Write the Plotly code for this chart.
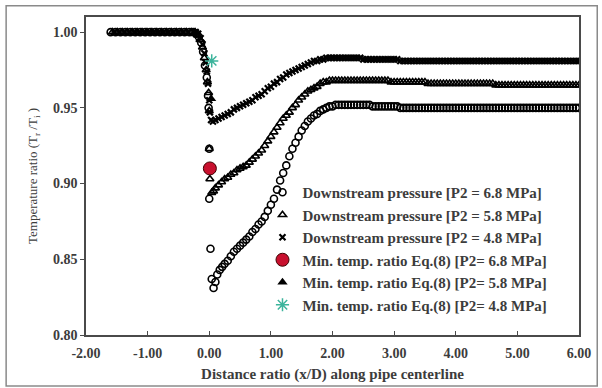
import plotly.graph_objects as go

# ---------------- data ----------------
# shared sample positions of the flat downstream part (x/D)
x_flat = [2.05, 2.10, 2.15, 2.20, 2.25, 2.30, 2.35, 2.40, 2.45, 2.50,
          2.55, 2.60, 2.65, 2.70, 2.75, 2.80, 2.85, 2.90, 2.95, 3.00,
          3.05, 3.10, 3.15, 3.20, 3.25, 3.30, 3.35, 3.40, 3.45, 3.50,
          3.55, 3.60, 3.65, 3.70, 3.75, 3.80, 3.85, 3.90, 3.95, 4.00,
          4.05, 4.10, 4.15, 4.20, 4.25, 4.30, 4.35, 4.40, 4.45, 4.50,
          4.55, 4.60, 4.65, 4.70, 4.75, 4.80, 4.85, 4.90, 4.95, 5.00,
          5.05, 5.10, 5.15, 5.20, 5.25, 5.30, 5.35, 5.40, 5.45, 5.50,
          5.55, 5.60, 5.65, 5.70, 5.75, 5.80, 5.85, 5.90, 5.95, 6.00]

# Downstream pressure P2 = 6.8 MPa (open circles)
x68_up = [-1.60, -1.52, -1.44, -1.36, -1.28, -1.20, -1.12, -1.04, -0.96, -0.88, -0.80, -0.72, -0.64, -0.56, -0.48, -0.40, -0.32,
          -0.26, -0.21, -0.17, -0.13, -0.10, -0.07, -0.04, -0.02, -0.01, 0.00, 0.00, 0.02, 0.04, 0.07, 0.10, 0.13, 0.17, 0.21,
          0.25, 0.30, 0.35, 0.40, 0.45, 0.50, 0.55, 0.60, 0.65, 0.70, 0.75, 0.80, 0.85, 0.90, 0.95, 1.00, 1.05, 1.10, 1.15,
          1.20, 1.25, 1.30, 1.35, 1.40, 1.45, 1.50, 1.55, 1.60, 1.65, 1.70, 1.75, 1.80, 1.85, 1.90, 1.95, 2.00]
y68_up = [1.000, 1.000, 1.000, 1.000, 1.000, 1.000, 1.000, 1.000, 1.000, 1.000, 1.000, 1.000, 1.000, 1.000, 1.000, 1.000, 1.000,
          1.000, 0.999, 0.997, 0.993, 0.987, 0.978, 0.970, 0.958, 0.950, 0.923, 0.890, 0.857, 0.837, 0.831, 0.835, 0.840, 0.843, 0.845,
          0.847, 0.849, 0.852, 0.855, 0.857, 0.859, 0.861, 0.863, 0.865, 0.868, 0.870, 0.873, 0.875, 0.878, 0.882, 0.886, 0.890, 0.896, 0.902,
          0.907, 0.912, 0.918, 0.923, 0.927, 0.931, 0.935, 0.938, 0.941, 0.943, 0.945, 0.946, 0.948, 0.949, 0.950, 0.951, 0.951]
y68_flat = [0.952, 0.952, 0.952, 0.952, 0.952, 0.952, 0.952, 0.952, 0.952, 0.952,
            0.952, 0.952, 0.951, 0.951, 0.951, 0.951, 0.951, 0.951, 0.951, 0.951,
            0.951, 0.950, 0.950, 0.950, 0.950, 0.950, 0.950, 0.950, 0.950, 0.950,
            0.950, 0.950, 0.950, 0.950, 0.950, 0.950, 0.950, 0.950, 0.950, 0.950,
            0.950, 0.950, 0.950, 0.950, 0.950, 0.950, 0.950, 0.950, 0.950, 0.950,
            0.950, 0.950, 0.950, 0.950, 0.950, 0.950, 0.950, 0.950, 0.950, 0.950,
            0.950, 0.950, 0.950, 0.950, 0.950, 0.950, 0.950, 0.950, 0.950, 0.950,
            0.950, 0.950, 0.950, 0.950, 0.950, 0.950, 0.950, 0.950, 0.950, 0.950]

# Downstream pressure P2 = 5.8 MPa (open triangles)
x58_up = [-1.57, -1.49, -1.41, -1.33, -1.25, -1.17, -1.09, -1.01, -0.93, -0.85, -0.77, -0.69, -0.61, -0.53, -0.45, -0.37, -0.29,
          -0.23, -0.19, -0.15, -0.11, -0.08, -0.05, -0.03, -0.01, 0.00, 0.00, 0.01, 0.04, 0.07, 0.10, 0.15, 0.20,
          0.25, 0.30, 0.35, 0.40, 0.45, 0.50, 0.55, 0.60, 0.65, 0.70, 0.75, 0.80, 0.85, 0.90, 0.95, 1.00, 1.05, 1.10, 1.15,
          1.20, 1.25, 1.30, 1.35, 1.40, 1.45, 1.50, 1.55, 1.60, 1.65, 1.70, 1.75, 1.80, 1.85, 1.90, 1.95, 2.00]
y58_up = [1.000, 1.000, 1.000, 1.000, 1.000, 1.000, 1.000, 1.000, 1.000, 1.000, 1.000, 1.000, 1.000, 1.000, 1.000, 1.000, 1.000,
          1.000, 0.998, 0.995, 0.990, 0.983, 0.975, 0.967, 0.960, 0.948, 0.923, 0.903, 0.894, 0.895, 0.897, 0.899, 0.901,
          0.903, 0.904, 0.906, 0.907, 0.909, 0.910, 0.911, 0.912, 0.914, 0.916, 0.918, 0.920, 0.922, 0.925, 0.928, 0.931, 0.934, 0.937, 0.940,
          0.943, 0.945, 0.947, 0.950, 0.952, 0.955, 0.957, 0.959, 0.961, 0.962, 0.963, 0.964, 0.966, 0.967, 0.967, 0.968, 0.968]
y58_flat = [0.968, 0.968, 0.968, 0.968, 0.968, 0.968, 0.968, 0.968, 0.968, 0.968,
            0.968, 0.968, 0.968, 0.968, 0.968, 0.968, 0.968, 0.968, 0.967, 0.967,
            0.967, 0.967, 0.967, 0.967, 0.967, 0.967, 0.967, 0.967, 0.967, 0.967,
            0.966, 0.966, 0.966, 0.966, 0.966, 0.966, 0.966, 0.966, 0.966, 0.966,
            0.966, 0.966, 0.966, 0.966, 0.966, 0.966, 0.966, 0.966, 0.966, 0.966,
            0.966, 0.966, 0.965, 0.965, 0.965, 0.965, 0.965, 0.965, 0.965, 0.965,
            0.965, 0.965, 0.965, 0.965, 0.965, 0.965, 0.965, 0.965, 0.965, 0.965,
            0.965, 0.965, 0.965, 0.965, 0.965, 0.965, 0.965, 0.965, 0.965, 0.965]

# Downstream pressure P2 = 4.8 MPa (x marks)
x48_up = [-1.54, -1.46, -1.38, -1.30, -1.22, -1.14, -1.06, -0.98, -0.90, -0.82, -0.74, -0.66, -0.58, -0.50, -0.42, -0.34, -0.26,
          -0.22, -0.18, -0.14, -0.11, -0.08, -0.06, -0.04, -0.02, 0.00, 0.01, 0.03, 0.06, 0.10, 0.15, 0.20,
          0.25, 0.30, 0.35, 0.40, 0.45, 0.50, 0.55, 0.60, 0.65, 0.70, 0.75, 0.80, 0.85, 0.90, 0.95, 1.00, 1.05, 1.10, 1.15,
          1.20, 1.25, 1.30, 1.35, 1.40, 1.45, 1.50, 1.55, 1.60, 1.65, 1.70, 1.75, 1.80, 1.85, 1.90, 1.95, 2.00]
y48_up = [1.000, 1.000, 1.000, 1.000, 1.000, 1.000, 1.000, 1.000, 1.000, 1.000, 1.000, 1.000, 1.000, 1.000, 1.000, 1.000, 1.000,
          1.000, 0.999, 0.996, 0.992, 0.986, 0.980, 0.974, 0.966, 0.955, 0.947, 0.942, 0.941, 0.942, 0.943, 0.944,
          0.945, 0.946, 0.947, 0.949, 0.950, 0.951, 0.952, 0.953, 0.954, 0.955, 0.957, 0.958, 0.959, 0.961, 0.963, 0.964, 0.966, 0.967, 0.969,
          0.970, 0.972, 0.973, 0.974, 0.975, 0.976, 0.977, 0.978, 0.979, 0.980, 0.981, 0.981, 0.982, 0.982, 0.983, 0.983, 0.983]
y48_flat = [0.983, 0.983, 0.983, 0.983, 0.983, 0.983, 0.983, 0.983, 0.983, 0.982,
            0.982, 0.982, 0.982, 0.982, 0.982, 0.982, 0.982, 0.982, 0.982, 0.982,
            0.982, 0.981, 0.981, 0.981, 0.981, 0.981, 0.981, 0.981, 0.981, 0.981,
            0.981, 0.981, 0.981, 0.981, 0.981, 0.981, 0.981, 0.981, 0.981, 0.981,
            0.981, 0.981, 0.981, 0.981, 0.981, 0.981, 0.981, 0.981, 0.981, 0.981,
            0.981, 0.981, 0.981, 0.981, 0.981, 0.981, 0.981, 0.981, 0.981, 0.981,
            0.981, 0.981, 0.981, 0.981, 0.981, 0.981, 0.981, 0.981, 0.981, 0.981,
            0.981, 0.981, 0.981, 0.981, 0.981, 0.981, 0.981, 0.981, 0.981, 0.981]

# Minimum temperature ratio from Eq.(8): P2 = 6.8, 5.8, 4.8 MPa
eq_x = [0.01, 0.03, 0.04]
eq_y = [0.910, 0.956, 0.981]

names = ["Downstream pressure [P2 = 6.8 MPa]",
         "Downstream pressure [P2 = 5.8 MPa]",
         "Downstream pressure [P2 = 4.8 MPa]",
         "Min. temp. ratio Eq.(8) [P2= 6.8 MPa]",
         "Min. temp. ratio Eq.(8) [P2= 5.8 MPa]",
         "Min. temp. ratio Eq.(8) [P2= 4.8 MPa]"]

x_ticks = [-2, -1, 0, 1, 2, 3, 4, 5, 6]
x_ticktext = ["-2.00", "-1.00", "0.00", "1.00", "2.00", "3.00", "4.00", "5.00", "6.00"]
y_ticks = [0.80, 0.85, 0.90, 0.95, 1.00]
y_ticktext = ["0.80", "0.85", "0.90", "0.95", "1.00"]

# ---------------- figure ----------------
SERIF = "Liberation Serif"
TXT = "#3c3c3c"

fig = go.Figure()
fig.add_trace(go.Scatter(x=x68_up + x_flat, y=y68_up + y68_flat, mode="markers", name=names[0],
                         marker=dict(symbol="circle-open", size=7, color="black", line=dict(width=1.6))))
fig.add_trace(go.Scatter(x=x58_up + x_flat, y=y58_up + y58_flat, mode="markers", name=names[1],
                         marker=dict(symbol="triangle-up-open", size=7, color="black", line=dict(width=1.6))))
fig.add_trace(go.Scatter(x=x48_up + x_flat, y=y48_up + y48_flat, mode="markers", name=names[2],
                         marker=dict(symbol="x-thin-open", size=6, color="black", line=dict(width=2.2))))
fig.add_trace(go.Scatter(x=[eq_x[0]], y=[eq_y[0]], mode="markers", name=names[3],
                         marker=dict(symbol="circle", size=13, color="#c8102e", line=dict(width=1, color="#400000"))))
fig.add_trace(go.Scatter(x=[eq_x[1]], y=[eq_y[1]], mode="markers", name=names[4],
                         marker=dict(symbol="triangle-up", size=9, color="black")))
fig.add_trace(go.Scatter(x=[eq_x[2]], y=[eq_y[2]], mode="markers", name=names[5],
                         marker=dict(symbol="asterisk-open", size=11, color="#3cb49c", line=dict(width=1.5, color="#3cb49c"))))

axis_common = dict(showline=True, linecolor="#4a4a4a", linewidth=1.5, mirror=True,
                   showgrid=False, zeroline=False, ticklen=4, tickcolor="#4a4a4a", automargin=False,
                   tickfont=dict(family=SERIF, size=14, color=TXT, weight="bold"))

fig.update_xaxes(range=[-2, 6], tickvals=x_ticks, ticktext=x_ticktext, ticks="inside",
                 ticklabelstandoff=4,
                 title=dict(text="Distance ratio (x/D) along pipe centerline",
                            font=dict(family=SERIF, size=15, color=TXT, weight="bold"), standoff=9),
                 **axis_common)
fig.update_yaxes(range=[0.80, 1.01], tickvals=y_ticks, ticktext=y_ticktext, ticks="outside",
                 title=dict(text="Temperature ratio (T<sub>r</sub> /T<sub>i</sub> )",
                            font=dict(family=SERIF, size=13, color=TXT), standoff=12),
                 **axis_common)

fig.add_shape(type="rect", xref="paper", yref="paper", x0=-0.162, x1=1.037, y0=-0.160, y1=1.035,
              line=dict(color="#8a8a8a", width=1.5), fillcolor="rgba(0,0,0,0)", layer="below")

fig.update_layout(
    width=602, height=388,
    margin=dict(l=86, r=23, t=17, b=53),
    paper_bgcolor="white", plot_bgcolor="white",
    showlegend=True,
    legend=dict(x=0.358, y=0.50, xanchor="left", yanchor="top", bgcolor="rgba(255,255,255,0)",
                font=dict(family=SERIF, size=15, color=TXT, weight="bold"),
                itemwidth=30, tracegroupgap=0),
)

fig.write_html("out.html", config={"displayModeBar": False},
               post_script="document.body.style.margin='0';")
